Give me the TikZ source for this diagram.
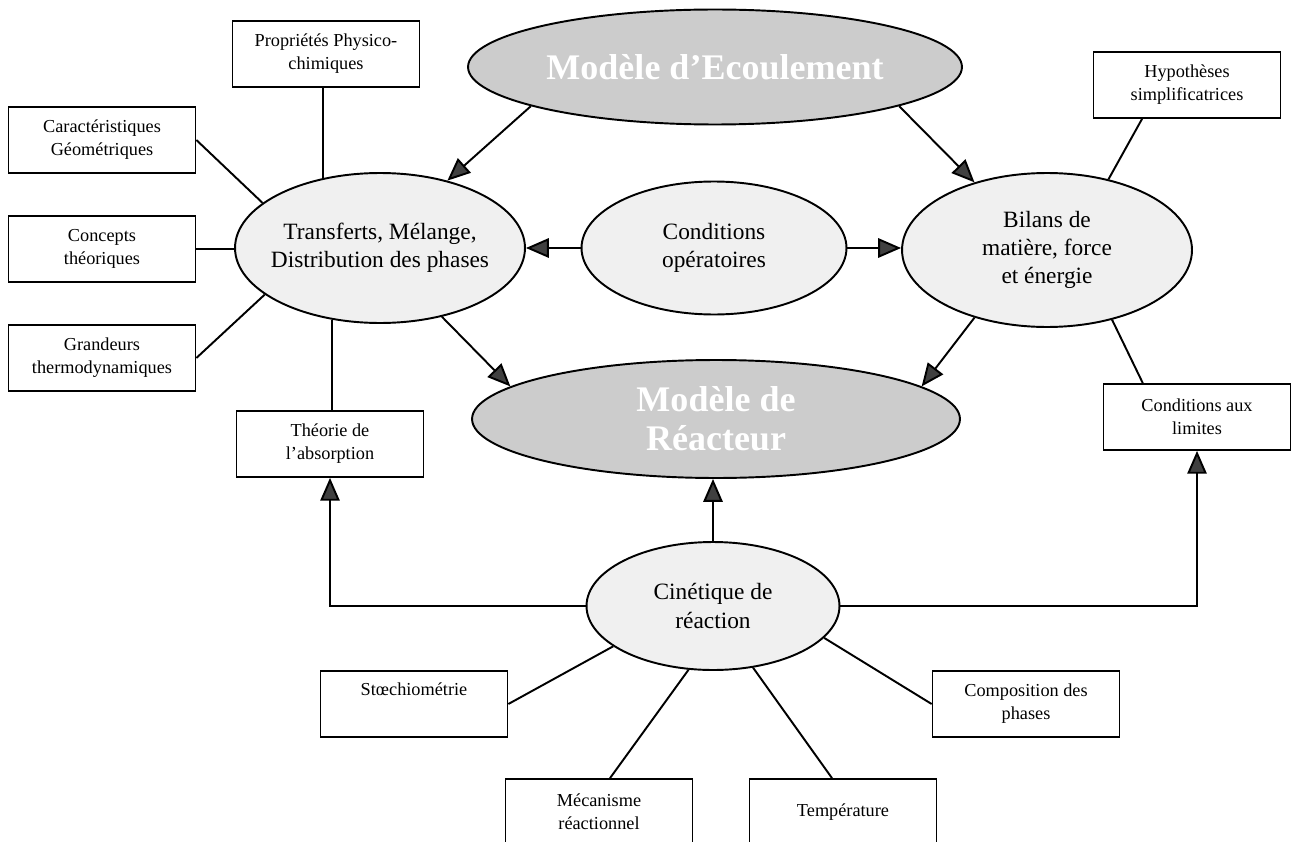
\documentclass[tikz,border=0pt]{standalone}
\usepackage{fontspec}
\setmainfont{Liberation Serif}
\usetikzlibrary{shapes.geometric,arrows.meta}

\begin{document}
\begin{tikzpicture}[x=0.02cm, y=-0.02cm,
    box/.style={draw, line width=1pt, minimum width=3.74cm, minimum height=1.32cm,
      align=center, font=\fontsize{10.4}{13}\selectfont},
    phase/.style={ellipse, draw, line width=1.1pt, fill=gray!12, align=center,
      inner xsep=-6pt, inner ysep=0pt, font=\fontsize{13.3}{16}\selectfont},
    model/.style={phase, fill=gray!40, text=white, font=\bfseries\fontsize{20.5}{22}\selectfont},
    link/.style={line width=1.1pt},
    arr/.style={link, -{Triangle[length=13pt,width=11pt,fill=black!75]}}]
  \useasboundingbox (0,0) rectangle (1293,841);
  \clip (0,0) rectangle (1293,841);

  % ellipses
  \node[model, minimum width=9.88cm, minimum height=2.3cm] (ecoul) at (715,67) {Modèle d’Ecoulement};
  \node[model, minimum width=9.76cm, minimum height=2.36cm] (reac) at (716,419) {Modèle de\\Réacteur};
  \node[phase, minimum width=5.8cm, minimum height=3cm] (transf) at (380,248) {Transferts, Mélange,\\Distribution des phases};
  \node[phase, minimum width=5.3cm, minimum height=2.66cm] (cond) at (714,248) {Conditions\\opératoires};
  \node[phase, minimum width=5.8cm, minimum height=3.08cm] (bilan) at (1047,250) {Bilans de\\matière, force\\et énergie};
  \node[phase, minimum width=5.06cm, minimum height=2.56cm] (cin) at (713,606) {Cinétique de\\réaction};

  % boxes
  \node[box] (prop) at (326,54) {Propriétés Physico-\\chimiques};
  \node[box] (geom) at (102,140) {Caractéristiques\\Géométriques};
  \node[box] (concept) at (102,249) {Concepts\\théoriques};
  \node[box] (grand) at (102,358) {Grandeurs\\thermodynamiques};
  \node[box] (theor) at (330,444) {Théorie de\\l’absorption};
  \node[box] (hypo) at (1187,85) {Hypothèses\\simplificatrices};
  \node[box] (limit) at (1197,417) {Conditions aux\\limites};
  \node[box] (stoech) at (414,704) {Stœchiométrie\\\strut};
  \node[box] (meca) at (599,812) {Mécanisme\\réactionnel};
  \node[box] (temp) at (843,812) {Température};
  \node[box] (compo) at (1026,704) {Composition des\\phases};

  % plain links
  \draw[link] (transf.129) -- (transf.129 |- prop.south);
  \draw[link] (geom.east) -- (transf.159);
  \draw[link] (concept.east) -- (concept.east -| transf.west);
  \draw[link] (grand.east) -- (transf.202);
  \draw[link] (transf.236) -- (transf.236 |- theor.north);
  \draw[link] (hypo.217) -- (bilan.49);
  \draw[link] (bilan.313) -- (limit.148);
  \draw[link] (stoech.east) -- (cin.202);
  \draw[link] (meca.72) -- (cin.249);
  \draw[link] (temp.108) -- (cin.303);
  \draw[link] (compo.west) -- (cin.344);

  % arrows
  \draw[arr] (ecoul.192) -- (transf.45);
  \draw[arr] (ecoul.348) -- (bilan.137);
  \draw[arr] (cond.west) -- (cond.west -| transf.east);
  \draw[arr] (cond.east) -- (cond.east -| bilan.west);
  \draw[arr] (transf.312) -- (reac.171);
  \draw[arr] (bilan.223) -- (reac.9);
  \draw[arr] (cin.north) -- (cin.north |- reac.south);
  \draw[arr] (cin.west) -| (theor.south);
  \draw[arr] (cin.east) -| (limit.south);
\end{tikzpicture}
\end{document}
